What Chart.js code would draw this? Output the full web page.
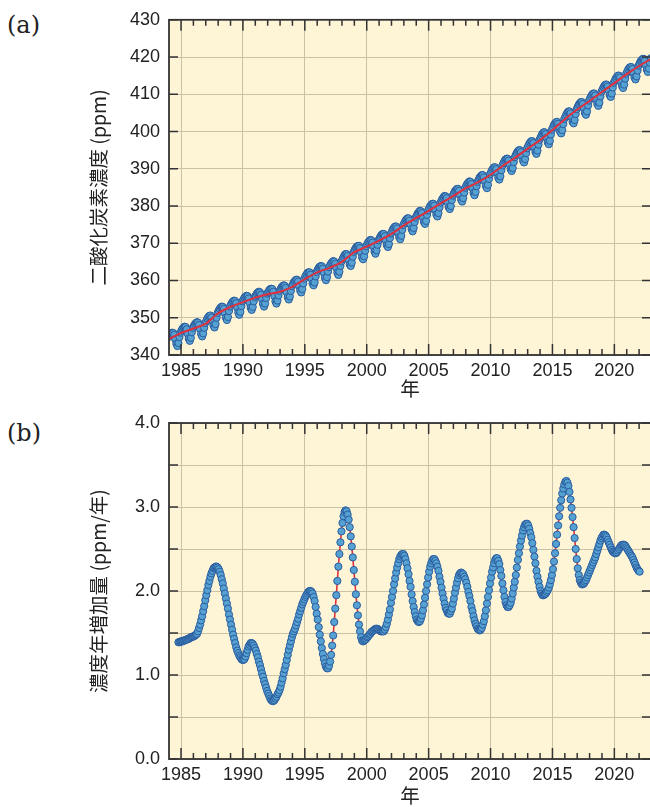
<!DOCTYPE html>
<html lang="ja">
<head>
<meta charset="utf-8">
<script src="https://cdn.jsdelivr.net/npm/chart.js@4.4.1/dist/chart.umd.min.js"></script>
<style>
  html, body { margin: 0; padding: 0; background: #fff; overflow: hidden; width: 650px; height: 807px; }
  canvas { position: absolute; left: 0; }
  #chartA { top: 0; }
  #chartB { top: 400px; }
  .panel { position: absolute; left: 7px; font-family: 'DejaVu Serif', serif; font-size: 24px; line-height: 24px; color: #222; }
</style>
</head>
<body>
<div class="panel" style="top:13px">(a)</div>
<div class="panel" style="top:421px">(b)</div>
<canvas id="chartA" width="660" height="400"></canvas>
<canvas id="chartB" width="660" height="407"></canvas>
<script>
// monthly CO2 (ppm), Jan 1984 .. Dec 2022, one row per year
const co2FirstYear = 1984;
const co2Monthly = [
  344.9, 345.4, 345.8, 346.0, 345.9, 345.4, 344.2, 343.0, 342.4, 343.2, 344.8, 346.0,
  346.6, 347.1, 347.4, 347.6, 347.5, 346.9, 345.7, 344.4, 343.8, 344.6, 346.1, 347.3,
  347.8, 348.3, 348.6, 348.8, 348.7, 348.1, 346.9, 345.6, 345.0, 345.8, 347.3, 348.6,
  349.1, 349.8, 350.2, 350.5, 350.6, 350.1, 349.0, 347.9, 347.4, 348.3, 350.0, 351.3,
  351.9, 352.4, 352.8, 353.0, 352.9, 352.4, 351.2, 350.0, 349.4, 350.2, 351.8, 353.0,
  353.6, 354.1, 354.4, 354.6, 354.5, 353.9, 352.7, 351.4, 350.8, 351.6, 353.1, 354.4,
  354.9, 355.4, 355.7, 355.9, 355.8, 355.2, 354.0, 352.7, 352.1, 352.9, 354.4, 355.6,
  356.0, 356.5, 356.8, 357.0, 356.8, 356.2, 355.0, 353.7, 353.0, 353.8, 355.3, 356.5,
  356.9, 357.4, 357.7, 357.8, 357.7, 357.0, 355.8, 354.4, 353.8, 354.6, 356.0, 357.2,
  357.7, 358.2, 358.5, 358.7, 358.6, 358.0, 356.8, 355.5, 354.9, 355.7, 357.2, 358.5,
  359.0, 359.6, 359.9, 360.2, 360.2, 359.7, 358.5, 357.3, 356.8, 357.7, 359.2, 360.5,
  361.1, 361.6, 362.0, 362.2, 362.2, 361.6, 360.5, 359.2, 358.7, 359.5, 361.1, 362.3,
  362.9, 363.4, 363.7, 363.9, 363.8, 363.2, 362.0, 360.7, 360.1, 360.9, 362.4, 363.6,
  364.1, 364.6, 364.9, 365.2, 365.1, 364.5, 363.4, 362.1, 361.5, 362.4, 363.9, 365.1,
  365.7, 366.3, 366.8, 367.1, 367.1, 366.6, 365.5, 364.3, 363.9, 364.8, 366.4, 367.7,
  368.3, 368.8, 369.1, 369.3, 369.3, 368.7, 367.5, 366.2, 365.7, 366.5, 368.0, 369.2,
  369.8, 370.3, 370.6, 370.9, 370.8, 370.2, 369.1, 367.8, 367.2, 368.1, 369.6, 370.8,
  371.4, 371.9, 372.3, 372.5, 372.5, 371.9, 370.8, 369.5, 369.0, 369.8, 371.4, 372.6,
  373.2, 373.8, 374.2, 374.5, 374.5, 374.0, 372.8, 371.6, 371.1, 372.0, 373.6, 374.9,
  375.5, 376.1, 376.4, 376.7, 376.7, 376.1, 375.0, 373.8, 373.2, 374.1, 375.7, 376.9,
  377.5, 378.0, 378.4, 378.7, 378.6, 378.1, 376.9, 375.7, 375.2, 376.0, 377.6, 378.8,
  379.4, 380.0, 380.3, 380.6, 380.6, 380.1, 378.9, 377.7, 377.2, 378.1, 379.6, 380.9,
  381.5, 382.0, 382.4, 382.7, 382.6, 382.1, 380.9, 379.7, 379.2, 380.0, 381.6, 382.8,
  383.4, 384.0, 384.3, 384.6, 384.6, 384.1, 382.9, 381.7, 381.2, 382.1, 383.6, 384.9,
  385.5, 386.0, 386.3, 386.6, 386.5, 385.9, 384.8, 383.5, 382.9, 383.8, 385.3, 386.5,
  387.1, 387.7, 388.0, 388.3, 388.3, 387.7, 386.6, 385.4, 384.8, 385.7, 387.3, 388.5,
  389.1, 389.7, 390.1, 390.4, 390.4, 389.9, 388.8, 387.6, 387.1, 388.0, 389.6, 390.9,
  391.5, 392.1, 392.5, 392.7, 392.7, 392.2, 391.1, 389.9, 389.4, 390.2, 391.8, 393.1,
  393.7, 394.3, 394.7, 395.0, 395.0, 394.5, 393.4, 392.2, 391.7, 392.6, 394.2, 395.5,
  396.1, 396.7, 397.1, 397.4, 397.4, 396.9, 395.7, 394.5, 394.0, 394.9, 396.5, 397.8,
  398.4, 399.0, 399.5, 399.8, 399.8, 399.3, 398.3, 397.1, 396.6, 397.5, 399.2, 400.5,
  401.1, 401.8, 402.2, 402.5, 402.6, 402.1, 401.1, 399.9, 399.5, 400.4, 402.0, 403.4,
  404.0, 404.6, 405.1, 405.4, 405.4, 404.9, 403.8, 402.6, 402.2, 403.1, 404.7, 406.0,
  406.6, 407.2, 407.6, 407.9, 407.9, 407.4, 406.2, 405.0, 404.5, 405.4, 407.0, 408.3,
  408.9, 409.5, 409.9, 410.2, 410.2, 409.7, 408.6, 407.4, 406.9, 407.8, 409.4, 410.7,
  411.3, 411.9, 412.3, 412.6, 412.6, 412.1, 411.0, 409.8, 409.3, 410.2, 411.8, 413.1,
  413.7, 414.3, 414.7, 415.0, 415.0, 414.5, 413.4, 412.2, 411.7, 412.6, 414.2, 415.5,
  416.1, 416.7, 417.1, 417.3, 417.3, 416.8, 415.7, 414.5, 414.0, 414.8, 416.4, 417.7,
  418.3, 418.9, 419.2, 419.5, 419.5, 418.9, 417.8, 416.6, 416.0, 416.9, 418.5, 419.7
];

// deseasonalised trend (red line), value at 1 Jan of 1984 .. 2023
const trendYears = [
  1984, 1985, 1986, 1987, 1988, 1989, 1990, 1991, 1992, 1993,
  1994, 1995, 1996, 1997, 1998, 1999, 2000, 2001, 2002, 2003,
  2004, 2005, 2006, 2007, 2008, 2009, 2010, 2011, 2012, 2013,
  2014, 2015, 2016, 2017, 2018, 2019, 2020, 2021, 2022, 2023
];
const co2Trend = [
  344.2, 345.9, 347.1, 348.4, 351.2, 352.9, 354.2, 355.4, 356.3, 357.0,
  358.3, 360.4, 362.2, 363.4, 365.0, 367.6, 369.1, 370.7, 372.5, 374.8,
  376.8, 378.7, 380.8, 382.7, 384.8, 386.4, 388.4, 390.8, 393.0, 395.4,
  397.7, 400.4, 403.3, 405.9, 408.2, 410.6, 413.0, 415.4, 417.6, 419.6
];

// growth rate (ppm/year), monthly from Oct 1984 to Jan 2022
const growthFirstMonth = 1984 + 9 / 12;
const growthRate = [
                                                        1.39, 1.39, 1.40,
  1.40, 1.40, 1.41, 1.41, 1.42, 1.42, 1.43, 1.43, 1.44, 1.45, 1.45, 1.46,
  1.46, 1.47, 1.48, 1.49, 1.52, 1.56, 1.60, 1.65, 1.70, 1.76, 1.82, 1.89,
  1.95, 2.01, 2.07, 2.12, 2.17, 2.21, 2.24, 2.27, 2.28, 2.29, 2.29, 2.28,
  2.26, 2.23, 2.19, 2.14, 2.09, 2.03, 1.97, 1.91, 1.85, 1.79, 1.72, 1.66,
  1.60, 1.54, 1.48, 1.43, 1.38, 1.33, 1.29, 1.26, 1.23, 1.21, 1.19, 1.18,
  1.18, 1.19, 1.22, 1.26, 1.30, 1.34, 1.36, 1.38, 1.38, 1.37, 1.35, 1.32,
  1.29, 1.25, 1.21, 1.16, 1.12, 1.07, 1.02, 0.98, 0.93, 0.89, 0.85, 0.81,
  0.78, 0.75, 0.72, 0.70, 0.69, 0.69, 0.70, 0.72, 0.74, 0.77, 0.79, 0.82,
  0.86, 0.91, 0.96, 1.02, 1.07, 1.12, 1.18, 1.24, 1.30, 1.35, 1.40, 1.45,
  1.49, 1.52, 1.55, 1.59, 1.63, 1.67, 1.72, 1.76, 1.80, 1.84, 1.87, 1.90,
  1.93, 1.95, 1.97, 1.99, 2.00, 2.00, 1.99, 1.97, 1.93, 1.88, 1.81, 1.73,
  1.66, 1.57, 1.48, 1.40, 1.32, 1.25, 1.19, 1.14, 1.10, 1.08, 1.08, 1.11,
  1.16, 1.24, 1.35, 1.47, 1.63, 1.79, 1.95, 2.12, 2.29, 2.44, 2.58, 2.71,
  2.81, 2.89, 2.94, 2.96, 2.95, 2.91, 2.85, 2.76, 2.65, 2.53, 2.40, 2.25,
  2.11, 1.96, 1.83, 1.71, 1.60, 1.52, 1.45, 1.41, 1.40, 1.41, 1.42, 1.43,
  1.45, 1.46, 1.48, 1.49, 1.51, 1.52, 1.53, 1.54, 1.55, 1.55, 1.55, 1.54,
  1.53, 1.52, 1.52, 1.52, 1.52, 1.54, 1.57, 1.61, 1.66, 1.72, 1.78, 1.86,
  1.93, 2.00, 2.08, 2.15, 2.22, 2.28, 2.33, 2.38, 2.41, 2.43, 2.44, 2.44,
  2.42, 2.38, 2.33, 2.27, 2.20, 2.12, 2.05, 1.96, 1.88, 1.81, 1.75, 1.70,
  1.66, 1.64, 1.63, 1.64, 1.67, 1.71, 1.77, 1.84, 1.92, 2.00, 2.08, 2.16,
  2.23, 2.29, 2.33, 2.36, 2.38, 2.38, 2.36, 2.33, 2.29, 2.24, 2.17, 2.11,
  2.04, 1.97, 1.91, 1.85, 1.80, 1.77, 1.74, 1.73, 1.73, 1.76, 1.79, 1.85,
  1.91, 1.98, 2.04, 2.10, 2.15, 2.19, 2.21, 2.22, 2.21, 2.20, 2.17, 2.14,
  2.10, 2.05, 1.99, 1.94, 1.88, 1.81, 1.76, 1.70, 1.65, 1.61, 1.58, 1.55,
  1.54, 1.53, 1.54, 1.56, 1.60, 1.64, 1.70, 1.77, 1.85, 1.93, 2.01, 2.09,
  2.16, 2.23, 2.28, 2.33, 2.37, 2.39, 2.39, 2.36, 2.32, 2.25, 2.18, 2.09,
  2.01, 1.93, 1.87, 1.83, 1.81, 1.81, 1.83, 1.86, 1.91, 1.97, 2.04, 2.11,
  2.19, 2.28, 2.37, 2.45, 2.53, 2.60, 2.66, 2.72, 2.76, 2.79, 2.80, 2.80,
  2.78, 2.74, 2.69, 2.64, 2.57, 2.49, 2.41, 2.33, 2.24, 2.17, 2.11, 2.05,
  2.00, 1.97, 1.95, 1.95, 1.96, 1.97, 1.99, 2.01, 2.04, 2.08, 2.13, 2.19,
  2.26, 2.35, 2.45, 2.56, 2.67, 2.78, 2.89, 2.99, 3.08, 3.16, 3.22, 3.27,
  3.30, 3.31, 3.29, 3.25, 3.18, 3.09, 2.99, 2.88, 2.76, 2.63, 2.50, 2.38,
  2.27, 2.19, 2.13, 2.10, 2.08, 2.08, 2.09, 2.11, 2.13, 2.16, 2.19, 2.22,
  2.25, 2.28, 2.31, 2.34, 2.37, 2.40, 2.44, 2.48, 2.52, 2.56, 2.60, 2.63,
  2.65, 2.67, 2.67, 2.66, 2.64, 2.61, 2.58, 2.55, 2.52, 2.49, 2.47, 2.46,
  2.45, 2.45, 2.46, 2.48, 2.50, 2.52, 2.54, 2.55, 2.55, 2.55, 2.54, 2.52,
  2.50, 2.48, 2.46, 2.44, 2.42, 2.40, 2.37, 2.34, 2.31, 2.28, 2.26, 2.24,
  2.23
];

const yearTicks = [1985, 1990, 1995, 2000, 2005, 2010, 2015, 2020];
const xMin = 1984.03;
const xMax = 2022.96;

const plotBg = '#fdf5d6';
const gridColor = '#cac2a6';
const frameColor = '#333';
const pointFill = '#55a1d2';
const pointEdge = '#2b5c9e';
const lineRed = '#e2303c';
const tickFont = { family: "'Liberation Sans', Arial, sans-serif", size: 18 };
const titleFont = { family: "'Noto Sans CJK JP', sans-serif", size: 19.5 };

Chart.defaults.color = '#222';

// cream plot area, black frame and inward tick marks on all four sides
const framePlugin = {
  id: 'frame',
  beforeDraw(chart) {
    const { ctx, chartArea: a } = chart;
    ctx.save();
    ctx.fillStyle = plotBg;
    ctx.fillRect(a.left, a.top, a.width, a.height);
    ctx.restore();
  },
  afterDraw(chart) {
    const { ctx, chartArea: a, scales: { x, y } } = chart;
    ctx.save();
    ctx.strokeStyle = frameColor;
    ctx.lineWidth = 1.5;
    ctx.beginPath();
    for (let yr = Math.ceil(x.min); yr <= x.max; yr++) {
      const px = x.getPixelForValue(yr);
      const len = yr % 5 === 0 ? 11 : 6;
      ctx.moveTo(px, a.top); ctx.lineTo(px, a.top + len);
      ctx.moveTo(px, a.bottom); ctx.lineTo(px, a.bottom - len);
    }
    y.ticks.forEach(t => {
      const py = y.getPixelForValue(t.value);
      ctx.moveTo(a.left, py); ctx.lineTo(a.left + 9, py);
      ctx.moveTo(a.right, py); ctx.lineTo(a.right - 9, py);
    });
    ctx.stroke();
    ctx.lineWidth = 1.8;
    ctx.strokeRect(a.left, a.top, a.width, a.height);
    ctx.restore();
  }
};

function xScale(height) {
  return {
    type: 'linear',
    min: xMin,
    max: xMax,
    afterBuildTicks: s => { s.ticks = yearTicks.map(v => ({ value: v })); },
    afterFit: s => { s.height = height; },
    grid: { color: gridColor, lineWidth: 1, drawTicks: false },
    border: { display: false },
    ticks: { font: tickFont, padding: 5, maxRotation: 0, autoSkip: false, callback: v => String(v) },
    title: { display: true, text: '年', font: titleFont, padding: 0 }
  };
}

function yScale(min, max, step, label, fmt) {
  return {
    min: min,
    max: max,
    afterFit: s => { s.width = 169; },
    grid: { color: gridColor, lineWidth: 1, drawTicks: false },
    border: { display: false },
    ticks: { stepSize: step, font: tickFont, padding: 9, autoSkip: false, callback: fmt },
    title: { display: true, text: label, font: titleFont, padding: { top: 87, bottom: 0 } }
  };
}

const commonPlugins = { legend: { display: false }, tooltip: { enabled: false } };

// (a) concentration
new Chart(document.getElementById('chartA'), {
  type: 'scatter',
  data: {
    datasets: [
      {
        data: trendYears.map((yr, i) => ({ x: yr, y: co2Trend[i] })),
        showLine: true,
        borderColor: lineRed,
        borderWidth: 2,
        pointRadius: 0,
        cubicInterpolationMode: 'monotone',
        order: 0
      },
      {
        data: co2Monthly.map((v, i) => ({ x: co2FirstYear + (i + 0.5) / 12, y: v })),
        showLine: false,
        pointRadius: 3.6,
        pointBackgroundColor: pointFill,
        pointBorderColor: pointEdge,
        pointBorderWidth: 1,
        order: 1
      }
    ]
  },
  options: {
    responsive: false,
    animation: false,
    layout: { padding: { top: 17, right: 9, left: 0, bottom: 0 } },
    scales: {
      x: xScale(45),
      y: yScale(340, 430, 10, '二酸化炭素濃度 (ppm)', v => String(v))
    },
    plugins: commonPlugins
  },
  plugins: [framePlugin]
});

// (b) growth rate
new Chart(document.getElementById('chartB'), {
  type: 'scatter',
  data: {
    datasets: [{
      data: growthRate.map((v, i) => ({ x: growthFirstMonth + (i + 0.5) / 12, y: v })),
      showLine: true,
      borderColor: lineRed,
      borderWidth: 1.6,
      pointRadius: 3.6,
      pointBackgroundColor: pointFill,
      pointBorderColor: pointEdge,
      pointBorderWidth: 1
    }]
  },
  options: {
    responsive: false,
    animation: false,
    layout: { padding: { top: 23, right: 9, left: 0, bottom: 0 } },
    scales: {
      x: xScale(48),
      y: yScale(0, 4, 0.5, '濃度年増加量 (ppm/年)', v => Number.isInteger(v) ? v.toFixed(1) : '')
    },
    plugins: commonPlugins
  },
  plugins: [framePlugin]
});
</script>
</body>
</html>
